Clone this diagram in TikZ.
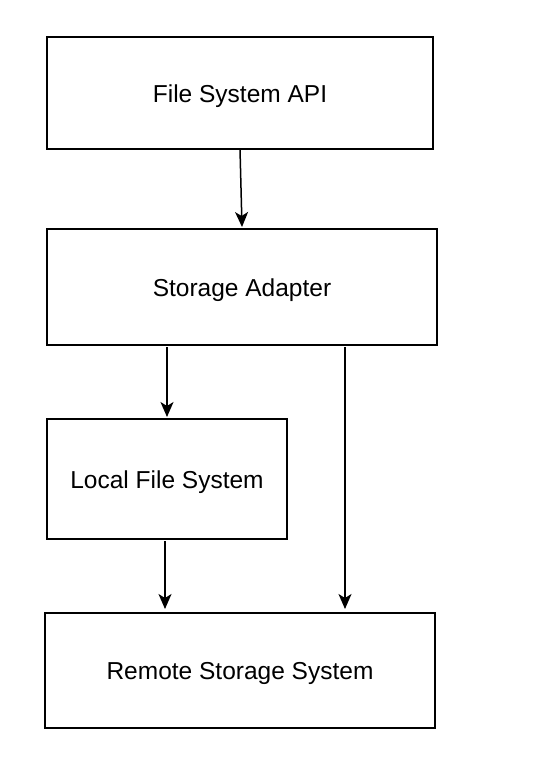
\documentclass[tikz,border=0pt]{standalone}
\usepackage{fontspec}
\setmainfont{Liberation Sans}
\usepackage{tikz}
\usetikzlibrary{arrows.meta}
\usetikzlibrary{positioning}

\tikzset{
	block/.style={rectangle, draw=black, line width=1.5pt, outer sep=0pt, inner sep=0pt, text height=18pt, text depth=0pt, align=center, font=\fontsize{24.5}{29}\selectfont},
	arr/.style={draw=black, line width=1.5pt, -{Stealth[length=15pt, width=13pt, inset=4pt]}}
}

\begin{document}
\begin{tikzpicture}[x=1pt, y=-1pt]
	\useasboundingbox (0,0) rectangle (536,776);
	
	\node[block, minimum width=386pt, minimum height=112pt] (api) at (240,93) {File System API};
	\node[block, minimum width=390pt, minimum height=116pt] (adapter) at (242,287) {Storage Adapter};
	\node[block, minimum width=240pt, minimum height=120pt] (local) at (167,479) {Local File System};
	\node[block, minimum width=390pt, minimum height=115pt] (remote) at (240,670.5) {Remote Storage System};
	
	\draw[arr] (api.south) -- ([yshift=2pt]adapter.north);
	\draw[arr] ([xshift=-75pt, yshift=-2pt]adapter.south) -- ([yshift=2pt]local.north);
	\draw[arr] ([xshift=103pt, yshift=-2pt]adapter.south) -- ([xshift=105pt, yshift=4pt]remote.north);
	\draw[arr] ([xshift=-2pt, yshift=-2pt]local.south) -- ([xshift=-75pt, yshift=4pt]remote.north);
	
\end{tikzpicture}
\end{document}
